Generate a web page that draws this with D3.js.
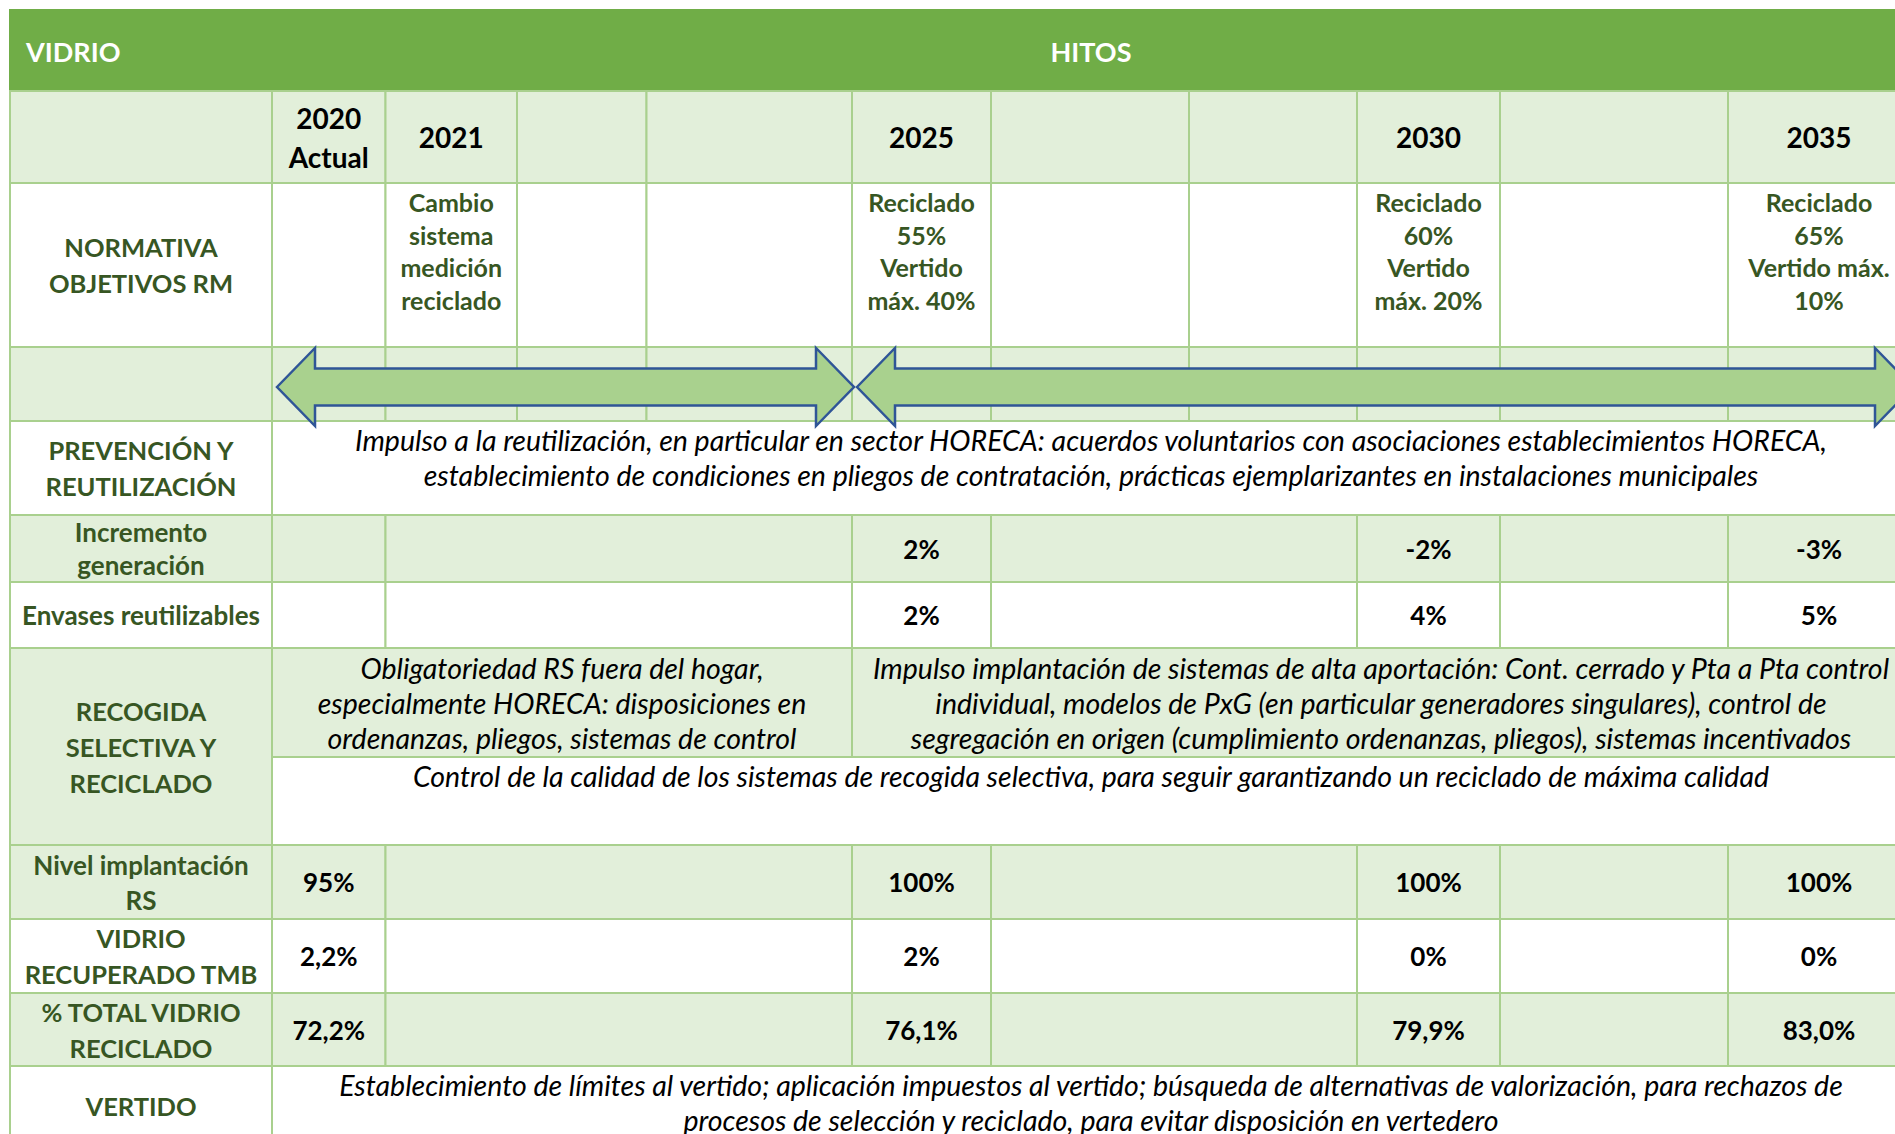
<!DOCTYPE html>
<html>
<head>
<meta charset="utf-8">
<script src="https://cdn.jsdelivr.net/npm/d3@7"></script>
<style>
body { margin: 0; background: #fff; overflow: hidden; }
svg { display: block; }
text { font-family: Lato, "Open Sans", sans-serif; }
</style>
</head>
<body>
<svg id="chart"></svg>
<script>
// ---- data
var title = "VIDRIO";
var headerLabel = "HITOS";
var years = ["2020\nActual", "2021", "", "", "2025", "", "", "2030", "", "2035"];
var normativa = ["", "Cambio\nsistema\nmedición\nreciclado", "", "", "Reciclado\n55%\nVertido\nmáx. 40%", "", "",
  "Reciclado\n60%\nVertido\nmáx. 20%", "", "Reciclado\n65%\nVertido máx.\n10%"];
var milestones = ["2020", "2025", "2030", "2035"];
var periodBounds = ["2020", "2025", "end"];
var incrementoGeneracion = ["", "2%", "-2%", "-3%"];
var envasesReutilizables = ["", "2%", "4%", "5%"];
var nivelImplantacionRS = ["95%", "100%", "100%", "100%"];
var vidrioRecuperadoTMB = ["2,2%", "2%", "0%", "0%"];
var totalVidrioReciclado = ["72,2%", "76,1%", "79,9%", "83,0%"];
var prevencionText = "Impulso a la reutilización, en particular en sector HORECA: acuerdos voluntarios con asociaciones establecimientos HORECA,\nestablecimiento de condiciones en pliegos de contratación, prácticas ejemplarizantes en instalaciones municipales";
var recogidaCorto = "Obligatoriedad RS fuera del hogar,\nespecialmente HORECA: disposiciones en\nordenanzas, pliegos, sistemas de control";
var recogidaLargo = "Impulso implantación de sistemas de alta aportación: Cont. cerrado y Pta a Pta control\nindividual, modelos de PxG (en particular generadores singulares), control de\nsegregación en origen (cumplimiento ordenanzas, pliegos), sistemas incentivados";
var recogidaCalidad = "Control de la calidad de los sistemas de recogida selectiva, para seguir garantizando un reciclado de máxima calidad";
var vertidoText = "Establecimiento de límites al vertido; aplicación impuestos al vertido; búsqueda de alternativas de valorización, para rechazos de\nprocesos de selección y reciclado, para evitar disposición en vertedero";

// ---- layout
var width = 1895, height = 1134;
var colWidths = [262, 113.5, 131.5, 129.5, 205.5, 139, 198, 168, 143, 228, 182];
var colEdges = [10].concat(Array.from(d3.cumsum(colWidths), d => d + 10));
var rowKeys = ["header", "years", "normativa", "arrows", "prevencion", "incremento", "envases",
  "recogidaTop", "recogidaBottom", "nivel", "vidrioTmb", "total", "vertido"];
var rowHeights = [81, 92, 164, 74, 94, 67, 66, 109, 88, 74, 74, 73, 80];
var rowEdges = [10].concat(Array.from(d3.cumsum(rowHeights), d => d + 10));

var x = d3.scaleOrdinal().domain(d3.range(colEdges.length)).range(colEdges);
var y = d3.scaleOrdinal().domain(rowKeys.concat(["bottom"])).range(rowEdges);
var nextRow = k => rowKeys[rowKeys.indexOf(k) + 1] || "bottom";
// milestone -> column index
var milestoneCol = d3.scaleOrdinal().domain(milestones.concat(["end"])).range([1, 5, 8, 10, 11]);

var GREEN = "#70ad47", LIGHT = "#e2efda", GRID = "#a9d08e", DARK = "#375623";

var styles = {
  header: { size: 27, weight: 700, color: "#fff" },
  year: { size: 28, weight: 700, color: "#000", lh: 39 },
  label: { size: 25.5, weight: 700, color: DARK, lh: 36 },
  labelSm: { size: 26, weight: 700, color: DARK, lh: 33 },
  labelSm2: { size: 26, weight: 700, color: DARK, lh: 35 },
  norm: { size: 25, weight: 700, color: DARK, lh: 32.6 },
  value: { size: 26, weight: 700, color: "#000" },
  italic: { size: 28.5, weight: 400, color: "#000", lh: 35, italic: true }
};

var cells = [];
function cell(c0, c1, r0, r1, fill, text, style, valign) {
  cells.push({ c0: c0, c1: c1, r0: r0, r1: r1 || r0, fill: fill, text: text || "", style: style || "value", valign: valign || "middle" });
}

// header
cells.push({ c0: 0, c1: 11, r0: "header", r1: "header", fill: GREEN, text: "", header: true });

// years row
cell(0, 1, "years", null, LIGHT);
years.forEach((d, i) => cell(i + 1, i + 2, "years", null, LIGHT, d, "year"));

// normativa
cell(0, 1, "normativa", null, "#fff", "NORMATIVA\nOBJETIVOS RM", "label");
normativa.forEach((d, i) => cell(i + 1, i + 2, "normativa", null, "#fff", d, "norm", "top"));

// arrows row
for (var i = 0; i < 11; i++) cell(i, i + 1, "arrows", null, LIGHT);

// prevencion
cell(0, 1, "prevencion", null, "#fff", "PREVENCIÓN Y\nREUTILIZACIÓN", "label");
cell(1, 11, "prevencion", null, "#fff", prevencionText, "italic", "top");

// milestone value rows
function valueRow(key, label, labelStyle, fill, values) {
  cell(0, 1, key, null, fill, label, labelStyle);
  var cols = values.map((v, i) => milestoneCol(milestones[i]));
  values.forEach((v, i) => {
    var c = cols[i];
    cell(c, c + 1, key, null, fill, v, "value");
    if (i < values.length - 1) cell(c + 1, cols[i + 1], key, null, fill);
  });
}
valueRow("incremento", "Incremento\ngeneración", "labelSm", LIGHT, incrementoGeneracion);
valueRow("envases", "Envases reutilizables", "labelSm", "#fff", envasesReutilizables);

// recogida
cell(0, 1, "recogidaTop", "recogidaBottom", LIGHT, "RECOGIDA\nSELECTIVA Y\nRECICLADO", "label");
cell(1, 5, "recogidaTop", null, LIGHT, recogidaCorto, "italic");
cell(5, 11, "recogidaTop", null, LIGHT, recogidaLargo, "italic");
cell(1, 11, "recogidaBottom", null, "#fff", recogidaCalidad, "italic", "top");

valueRow("nivel", "Nivel implantación\nRS", "labelSm2", LIGHT, nivelImplantacionRS);
valueRow("vidrioTmb", "VIDRIO\nRECUPERADO TMB", "label", "#fff", vidrioRecuperadoTMB);
valueRow("total", "% TOTAL VIDRIO\nRECICLADO", "label", LIGHT, totalVidrioReciclado);

cell(0, 1, "vertido", null, "#fff", "VERTIDO", "label");
cell(1, 11, "vertido", null, "#fff", vertidoText, "italic", "top");

// ---- draw
var svg = d3.select("#chart").attr("width", width).attr("height", height);

var g = svg.selectAll(".cell")
  .data(cells)
  .enter()
  .append("g")
    .classed("cell", true);

g.append("rect")
  .attr("x", d => x(d.c0))
  .attr("y", d => y(d.r0))
  .attr("width", d => x(d.c1) - x(d.c0))
  .attr("height", d => y(nextRow(d.r1)) - y(d.r0))
  .attr("fill", d => d.fill)
  .attr("stroke", d => d.header ? GREEN : GRID)
  .attr("stroke-width", 2);

g.each(function(d) {
  if (!d.text) return;
  var st = styles[d.style];
  var lines = d.text.split("\n");
  var cx = (x(d.c0) + x(d.c1)) / 2;
  var top = y(d.r0), bottom = y(nextRow(d.r1));
  var lh = st.lh || 34;
  var first;
  if (d.valign === "top") first = top + 19;
  else first = (top + bottom) / 2 - (lines.length - 1) * lh / 2;
  var t = d3.select(this).append("text")
    .attr("text-anchor", "middle")
    .attr("dominant-baseline", "central")
    .attr("font-size", st.size)
    .attr("font-weight", st.weight)
    .attr("font-style", st.italic ? "italic" : null)
    .attr("fill", st.color);
  t.selectAll("tspan")
    .data(lines)
    .enter()
    .append("tspan")
      .attr("x", cx)
      .attr("y", (l, i) => first + i * lh)
      .text(l => l);
});

// header texts
svg.append("text")
  .attr("x", 26).attr("y", y("header") + 41)
  .attr("dominant-baseline", "central")
  .attr("font-size", styles.header.size).attr("font-weight", 700).attr("fill", "#fff")
  .text(title);
svg.append("text")
  .attr("x", (x(1) + x(11)) / 2).attr("y", y("header") + 41)
  .attr("text-anchor", "middle").attr("dominant-baseline", "central")
  .attr("font-size", styles.header.size).attr("font-weight", 700).attr("fill", "#fff")
  .text(headerLabel);

// double arrows for the periods
var cy = y("arrows") + 40, shaft = 18.5, head = 39, headLen = 38;
var arrows = d3.pairs(periodBounds).map(p => ({
  x0: x(milestoneCol(p[0])) + 5,
  x1: x(milestoneCol(p[1])) + (p[1] === "end" ? 3 : 2)
}));
svg.selectAll(".arrow")
  .data(arrows)
  .enter()
  .append("path")
    .classed("arrow", true)
    .attr("d", d => {
      var a = d.x0, b = d.x1;
      return "M" + a + "," + cy +
        "L" + (a + headLen) + "," + (cy - head) +
        "L" + (a + headLen) + "," + (cy - shaft) +
        "L" + (b - headLen) + "," + (cy - shaft) +
        "L" + (b - headLen) + "," + (cy - head) +
        "L" + b + "," + cy +
        "L" + (b - headLen) + "," + (cy + head) +
        "L" + (b - headLen) + "," + (cy + shaft) +
        "L" + (a + headLen) + "," + (cy + shaft) +
        "L" + (a + headLen) + "," + (cy + head) + "Z";
    })
    .attr("fill", "#a9d18e")
    .attr("stroke", "#2f5597")
    .attr("stroke-width", 2.5)
    .attr("stroke-linejoin", "miter");
</script>
</body>
</html>
